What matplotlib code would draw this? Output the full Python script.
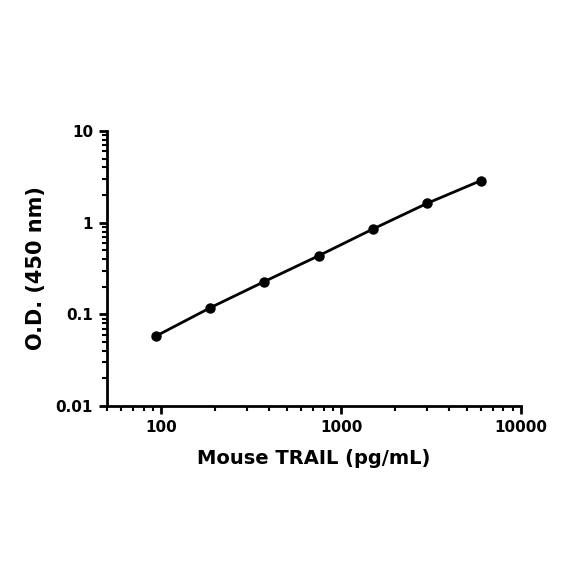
import matplotlib
matplotlib.use("Agg")
import matplotlib.pyplot as plt
from matplotlib.ticker import LogLocator, FixedFormatter, FixedLocator, NullFormatter

# standard curve data
conc = [93.75, 187.5, 375, 750, 1500, 3000, 6000]
od = [0.058, 0.118, 0.228, 0.435, 0.85, 1.62, 2.88]

x_ticks = [100, 1000, 10000]
x_tick_labels = ["100", "1000", "10000"]
y_ticks = [0.01, 0.1, 1, 10]
y_tick_labels = ["0.01", "0.1", "1", "10"]

plt.rcParams['font.family'] = ['DejaVu Sans']
plt.rcParams['font.weight'] = 'bold'

fig = plt.figure(figsize=(5.84, 5.84), dpi=100)
ax = fig.add_axes([0.1832, 0.3048, 0.7088, 0.4709])

ax.plot(conc, od, color='black', linewidth=2, marker='o', markersize=6.5)

ax.set_xscale('log')
ax.set_yscale('log')
ax.set_xlim(50, 10000)
ax.set_ylim(0.01, 10)

ax.xaxis.set_major_locator(FixedLocator(x_ticks))
ax.xaxis.set_major_formatter(FixedFormatter(x_tick_labels))
ax.xaxis.set_minor_locator(LogLocator(base=10, subs=range(2, 10), numticks=20))
ax.xaxis.set_minor_formatter(NullFormatter())
ax.yaxis.set_major_locator(FixedLocator(y_ticks))
ax.yaxis.set_major_formatter(FixedFormatter(y_tick_labels))
ax.yaxis.set_minor_locator(LogLocator(base=10, subs=range(2, 10), numticks=20))
ax.yaxis.set_minor_formatter(NullFormatter())

for side in ['top', 'right']:
    ax.spines[side].set_visible(False)
for side in ['left', 'bottom']:
    ax.spines[side].set_linewidth(2)

ax.tick_params(which='major', length=6, width=2, labelsize=11, pad=4)
ax.tick_params(which='minor', length=3.5, width=1.5)

ax.set_xlabel("Mouse TRAIL (pg/mL)", fontsize=14, fontweight='bold', labelpad=10)
ax.set_ylabel("O.D. (450 nm)", fontsize=15, fontweight='bold', labelpad=7)

fig.savefig("out.png", dpi=100)
